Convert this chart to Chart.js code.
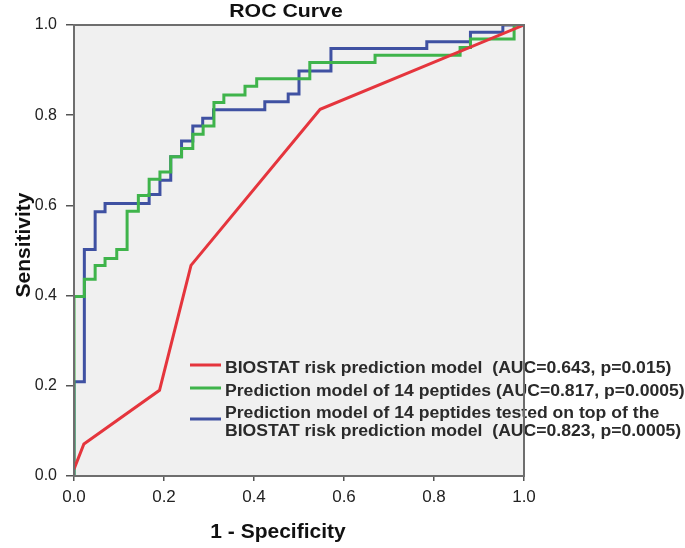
<!DOCTYPE html>
<html lang="en">
<head>
    <meta charset="UTF-8">
    <title>ROC Curve</title>
    <script src="https://cdn.jsdelivr.net/npm/chart.js"></script>
    <style>
        html, body { margin: 0; padding: 0; background: #fff; }
        #wrap { position: relative; width: 685px; height: 548px; }
    </style>
</head>
<body>
    <div id="wrap">
        <canvas id="rocChart" width="685" height="548"></canvas>
    </div>

    <script>
        // Données (1 - spécificité / sensibilité)
        const biostatFpr = [0, 0.022, 0.19, 0.26, 0.547, 1];
        const biostatTpr = [0.015, 0.071, 0.19, 0.467, 0.813, 1];

        const peptidesFpr = [0, 0, 0.023, 0.047, 0.069, 0.095, 0.118, 0.143, 0.167, 0.191, 0.215, 0.239, 0.264, 0.287, 0.311, 0.333, 0.38, 0.406, 0.524, 0.669, 0.858, 0.881, 0.978, 1];
        const peptidesTpr = [0, 0.398, 0.436, 0.467, 0.482, 0.502, 0.587, 0.622, 0.658, 0.674, 0.708, 0.726, 0.758, 0.776, 0.828, 0.845, 0.864, 0.881, 0.917, 0.933, 0.95, 0.969, 1, 1];

        const combinedFpr = [0, 0, 0.023, 0.047, 0.069, 0.167, 0.191, 0.215, 0.239, 0.264, 0.286, 0.31, 0.424, 0.476, 0.5, 0.571, 0.784, 0.881, 0.953, 1];
        const combinedTpr = [0, 0.209, 0.502, 0.586, 0.604, 0.624, 0.656, 0.708, 0.743, 0.776, 0.793, 0.812, 0.83, 0.847, 0.898, 0.948, 0.963, 0.984, 1, 1];

        const seriesLabels = [
            'BIOSTAT risk prediction model  (AUC=0.643, p=0.015)',
            'Prediction model of 14 peptides (AUC=0.817, p=0.0005)',
            'Prediction model of 14 peptides tested on top of the BIOSTAT risk prediction model  (AUC=0.823, p=0.0005)'
        ];
        const legendLines = [
            ['BIOSTAT risk prediction model  (AUC=0.643, p=0.015)'],
            ['Prediction model of 14 peptides (AUC=0.817, p=0.0005)'],
            ['Prediction model of 14 peptides tested on top of the', 'BIOSTAT risk prediction model  (AUC=0.823, p=0.0005)']
        ];
        const axisTicks = [0, 0.2, 0.4, 0.6, 0.8, 1.0];

        const FONT = '"Liberation Sans", Arial, sans-serif';
        const colors = ['#e5353d', '#3fb44b', '#3f51a2'];

        const toPoints = (xs, ys) => xs.map((x, i) => ({ x: x, y: ys[i] }));

        // texte légèrement étiré en largeur, comme sur l'original
        function wideText(ctx, text, x, y, sx) {
            ctx.save();
            ctx.translate(x, y);
            ctx.scale(sx, 1);
            ctx.fillText(text, 0, 0);
            ctx.restore();
        }

        // fond gris, légende, cadre et titres
        const decorPlugin = {
            id: 'decor',
            beforeDatasetsDraw(chart) {
                const { ctx, chartArea: a } = chart;
                ctx.save();
                ctx.fillStyle = '#f0f0f0';
                ctx.fillRect(a.left, a.top, a.right - a.left, a.bottom - a.top);
                ctx.restore();
            },
            afterDatasetsDraw(chart) {
                const { ctx } = chart;
                ctx.save();
                const swatchY = [365, 388, 419];
                const baselines = [[373], [396], [418, 436]];
                ctx.font = 'bold 16px ' + FONT;
                ctx.textBaseline = 'alphabetic';
                legendLines.forEach((lines, i) => {
                    ctx.strokeStyle = colors[i];
                    ctx.lineWidth = 3;
                    ctx.beginPath();
                    ctx.moveTo(190, swatchY[i]);
                    ctx.lineTo(221, swatchY[i]);
                    ctx.stroke();
                    ctx.fillStyle = '#2a2a2a';
                    lines.forEach((t, j) => wideText(ctx, t, 225, baselines[i][j], 1.1));
                });
                ctx.restore();
            },
            afterDraw(chart) {
                const { ctx, chartArea: a } = chart;
                ctx.save();
                ctx.strokeStyle = '#6e6e6e';
                ctx.lineWidth = 2;
                ctx.strokeRect(a.left, a.top, a.right - a.left, a.bottom - a.top);

                ctx.fillStyle = '#111';
                ctx.textAlign = 'center';
                ctx.textBaseline = 'middle';
                ctx.font = 'bold 19px ' + FONT;
                wideText(ctx, 'ROC Curve', 286, 12, 1.12);

                ctx.font = 'bold 21px ' + FONT;
                ctx.fillText('1 - Specificity', 278, 532);

                ctx.font = 'bold 20px ' + FONT;
                ctx.translate(24, 245);
                ctx.rotate(-Math.PI / 2);
                wideText(ctx, 'Sensitivity', 0, 0, 1.05);
                ctx.restore();
            }
        };

        const axisOptions = (tickLen, pad, size) => ({
            type: 'linear',
            min: 0,
            max: 1,
            afterBuildTicks: s => { s.ticks = axisTicks.map(v => ({ value: v })); },
            ticks: {
                color: '#222',
                padding: pad,
                font: { family: FONT, size: size },
                callback: v => Number(v).toFixed(1)
            },
            grid: {
                drawOnChartArea: false,
                drawTicks: true,
                tickLength: tickLen,
                color: '#555',
                lineWidth: 1.5
            },
            border: { display: false }
        });

        const xAxis = axisOptions(5, 6, 17);
        xAxis.afterFit = s => { s.height = 72; };
        const yAxis = axisOptions(8, 9, 16);
        yAxis.afterFit = s => { s.width = 74; };

        new Chart(document.getElementById('rocChart'), {
            type: 'line',
            data: {
                datasets: [
                    {
                        label: seriesLabels[0],
                        data: toPoints(biostatFpr, biostatTpr),
                        borderColor: colors[0],
                        borderWidth: 3,
                        pointRadius: 0,
                        tension: 0
                    },
                    {
                        label: seriesLabels[1],
                        data: toPoints(peptidesFpr, peptidesTpr),
                        borderColor: colors[1],
                        borderWidth: 3,
                        pointRadius: 0,
                        stepped: 'before'
                    },
                    {
                        label: seriesLabels[2],
                        data: toPoints(combinedFpr, combinedTpr),
                        borderColor: colors[2],
                        borderWidth: 3,
                        pointRadius: 0,
                        stepped: 'before'
                    }
                ]
            },
            options: {
                responsive: false,
                animation: false,
                devicePixelRatio: 1,
                layout: { padding: { left: 0, top: 25, right: 161, bottom: 0 } },
                plugins: {
                    legend: { display: false },
                    title: { display: false },
                    tooltip: { enabled: false }
                },
                scales: { x: xAxis, y: yAxis }
            },
            plugins: [decorPlugin]
        });
    </script>
</body>
</html>
